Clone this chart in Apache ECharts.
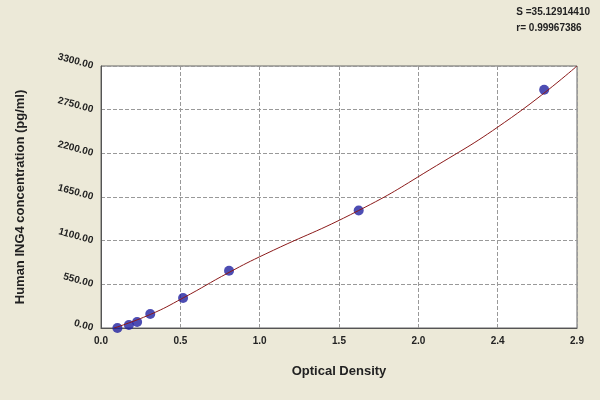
<!DOCTYPE html><html><head><meta charset="utf-8">
<script src="https://cdn.jsdelivr.net/npm/echarts@6/dist/echarts.min.js"></script>
<style>html,body{margin:0;background:#ECE9D8}#c{width:600px;height:400px}</style></head><body><div id="c"></div>
<script>
const pointsX=[0.10,0.17,0.22,0.30,0.50,0.78,1.57,2.70];
const pointsY=[0,38,76,176,378,720,1480,3000];
const curveX=[0.08,0.3,0.5,0.78,1.0,1.57,2.0,2.5,2.9];
const curveY=[0,170,378,700,930,1480,1990,2650,3300];
const xTickLabels=['0.0','0.5','1.0','1.5','2.0','2.4','2.9'];
const statText=['S =35.12914410','r= 0.99967386'];
const chart=echarts.init(document.getElementById('c'));
const xInt=2.9/6;
chart.setOption({
 backgroundColor:'#ECE9D8',
 grid:{left:101,right:23,top:66,bottom:72,backgroundColor:'#fff',show:true,borderColor:'#666'},
 graphic:[{type:'text',right:10,top:4,style:{text:statText.join('\n'),font:'bold 10px sans-serif',fill:'#222',align:'right',lineHeight:16}}],
 xAxis:{type:'value',min:0,max:2.9,interval:xInt,name:'Optical Density',nameLocation:'middle',nameGap:37,
  nameTextStyle:{fontWeight:'bold',fontSize:13,color:'#222'},
  axisLine:{lineStyle:{color:'#555'}},axisTick:{show:false},
  axisLabel:{fontSize:10,color:'#222',fontWeight:'bold',formatter:v=>xTickLabels[Math.round(v/xInt)]},
  splitLine:{lineStyle:{type:'dashed',color:'#999'}}},
 yAxis:{type:'value',min:0,max:3300,interval:550,name:'Human ING4 concentration (pg/ml)',nameLocation:'middle',nameGap:74,
  nameTextStyle:{fontWeight:'bold',fontSize:13,color:'#222'},
  axisLine:{show:true,lineStyle:{color:'#555'}},axisTick:{show:false},
  axisLabel:{fontSize:10,color:'#222',fontWeight:'bold',rotate:-15,formatter:v=>v.toFixed(2)},
  splitLine:{lineStyle:{type:'dashed',color:'#999'}}},
 series:[
  {type:'line',data:curveX.map((x,i)=>[x,curveY[i]]),smooth:true,symbol:'none',lineStyle:{color:'#8B1A1A',width:1},silent:true},
  {type:'scatter',data:pointsX.map((x,i)=>[x,pointsY[i]]),symbolSize:10,itemStyle:{color:'#2020A0'}}
 ]
});
</script></body></html>
